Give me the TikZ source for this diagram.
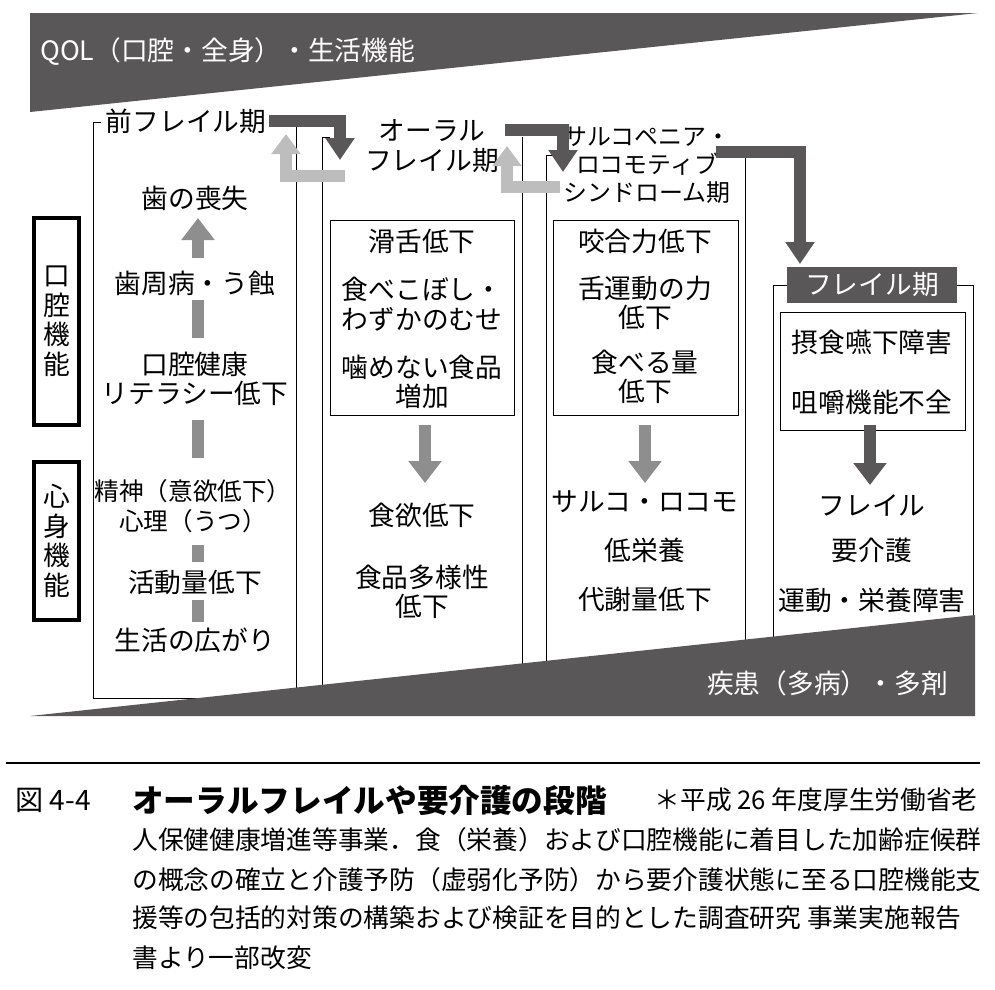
\documentclass[tikz,border=0pt]{standalone}
\usepackage{fontspec}
\setmainfont{Noto Sans CJK JP}
\usetikzlibrary{arrows.meta}
\definecolor{darkband}{HTML}{5A5758}
\definecolor{midarrow}{HTML}{8E8E8E}
\definecolor{lightarrow}{HTML}{BDBDBD}
\begin{document}
\begin{tikzpicture}[x=0.025cm,y=-0.025cm,
    lbl/.style={font=\fontsize{19}{21}\selectfont,inner sep=0pt,align=center},
    captext/.style={font=\fontsize{18.3}{19}\selectfont,inner sep=0pt,anchor=west},
    panel/.style={line width=0.6pt},
    dashbar/.style={midarrow,line width=0.3cm},
    uparrow/.style={midarrow,line width=0.3cm,-{Triangle[width=0.8cm,length=0.55cm]}},
    stepdark/.style={darkband,line width=0.32cm,-{Triangle[width=0.7cm,length=0.55cm]}},
    steplight/.style={lightarrow,line width=0.3cm,-{Triangle[width=0.7cm,length=0.5cm]}}]
	\useasboundingbox (0,0) rectangle (995,989);
	% top band
	\fill[darkband] (30,13) -- (978,13) -- (30,112) -- cycle;
	\node[lbl,white,anchor=west] (qol) at (40,52) {QOL（口腔・全身）・生活機能};
	% panels
	\draw[panel] (101,122) -- (93,122) -- (93,698) -- (300,698);
	\draw[panel] (284,122) -- (296,122) -- (296,698);
	\draw[panel] (330,137) -- (322,137) -- (322,698) -- (522,698) -- (522,137);
	\draw[panel] (554,155) -- (546,155) -- (546,698) -- (745,698) -- (745,152);
	\draw[panel] (787,285) -- (773,285) -- (773,698) -- (973,698) -- (973,285) -- (957,285);
	% side labels
	\draw[line width=2.5pt] (34,218) rectangle (79,425);
	\node[lbl,align=center] (kokuu) at (57,321) {口\\腔\\機\\能};
	\draw[line width=2.5pt] (34,462) rectangle (79,620);
	\node[lbl,align=center] (shinshin) at (57,541) {心\\身\\機\\能};
	% column 1
	\node[lbl,fill=white,inner sep=2pt] (pre) at (186,121) {前フレイル期};
	\node[lbl] (teeth) at (195,198) {歯の喪失};
	\node[lbl] (perio) at (195,283) {歯周病・う蝕};
	\node[lbl] (lit) at (195,379) {口腔健康\\リテラシー低下};
	\node[lbl,font=\fontsize{17.5}{21}\selectfont] (mind) at (193,506) {精神（意欲低下）\\心理（うつ）};
	\node[lbl] (act) at (195,582) {活動量低下};
	\node[lbl] (life) at (195,640) {生活の広がり};
	\draw[uparrow] (198,258) -- (198,218);
	\draw[dashbar] (198,300) -- (198,338);
	\draw[dashbar] (198,420) -- (198,458);
	\draw[dashbar] (198,545) -- (198,562);
	\draw[dashbar] (198,600) -- (198,622);
	% column 2
	\node[lbl] (oral) at (432,146) {オーラル\\フレイル期};
	\draw[panel] (330,220) rectangle (514,415);
	\node[lbl] (katsu) at (422,241) {滑舌低下};
	\node[lbl] (koboshi) at (422,304) {食べこぼし・\\わずかのむせ};
	\node[lbl] (kame) at (422,382) {噛めない食品\\増加};
	\node[lbl] (shoku) at (422,515) {食欲低下};
	\node[lbl] (tayou) at (422,592) {食品多様性\\低下};
	\draw[uparrow] (425,425) -- (425,483);
	% column 3
	\node[lbl,font=\fontsize{17}{20}\selectfont] (sarco) at (647,165) {サルコペニア・\\ロコモティブ\\シンドローム期};
	\draw[panel] (553,220) rectangle (738,415);
	\node[lbl] (kougou) at (645,241) {咬合力低下};
	\node[lbl] (shita) at (645,303) {舌運動の力\\低下};
	\node[lbl] (taberu) at (645,377) {食べる量\\低下};
	\node[lbl] (saroko) at (645,502) {サルコ・ロコモ};
	\node[lbl] (eiyou) at (645,550) {低栄養};
	\node[lbl] (taisha) at (645,599) {代謝量低下};
	\draw[uparrow] (645,425) -- (645,483);
	% column 4
	\node[lbl,fill=darkband,text=white,minimum width=4.25cm,minimum height=0.88cm] (frail) at (872,285) {フレイル期};
	\draw[panel] (780,312) rectangle (965,430);
	\node[lbl] (sesshoku) at (872,342) {摂食嚥下障害};
	\node[lbl] (soshaku) at (872,402) {咀嚼機能不全};
	\node[lbl] (frail2) at (872,505) {フレイル};
	\node[lbl] (kaigo) at (872,550) {要介護};
	\node[lbl] (undou) at (872,600) {運動・栄養障害};
	\draw[darkband,line width=0.32cm,-{Triangle[width=0.8cm,length=0.55cm]}] (870,425) -- (870,485);
	% stage arrows
	\draw[stepdark] (pre.east) -- (340,121) -- (340,160);
	\draw[steplight] (345,176) -- (286,176) -- (286,134);
	\draw[stepdark] (505,130) -- (563,130) -- (563,172);
	\draw[steplight] (560,187) -- (507,187) -- (507,146);
	\draw[stepdark] (716,152) -- (800,152) -- (800,264);
	% bottom band
	\fill[darkband] (30,716) -- (975,716) -- (975,615) -- cycle;
	\node[lbl,white,anchor=east] (disease) at (948,683) {疾患（多病）・多剤};
	% caption
	\draw[line width=0.8pt] (6,763) -- (980,763);
	\node[captext,font=\fontsize{20}{21}\selectfont] (fig) at (15,800) {図 4-4};
	\node[captext,font=\fontsize{22.5}{24}\bfseries\selectfont] (title) at (132,800) {オーラルフレイルや要介護の段階};
	\node[captext,anchor=east] (src) at (978,800) {＊平成 26 年度厚生労働省老};
	\node[captext] (l2) at (132,840) {人保健健康増進等事業．食（栄養）および口腔機能に着目した加齢症候群};
	\node[captext] (l3) at (132,880) {の概念の確立と介護予防（虚弱化予防）から要介護状態に至る口腔機能支};
	\node[captext] (l4) at (132,918) {援等の包括的対策の構築および検証を目的とした調査研究\ 事業実施報告};
	\node[captext] (l5) at (132,958) {書より一部改変};
\end{tikzpicture}
\end{document}
